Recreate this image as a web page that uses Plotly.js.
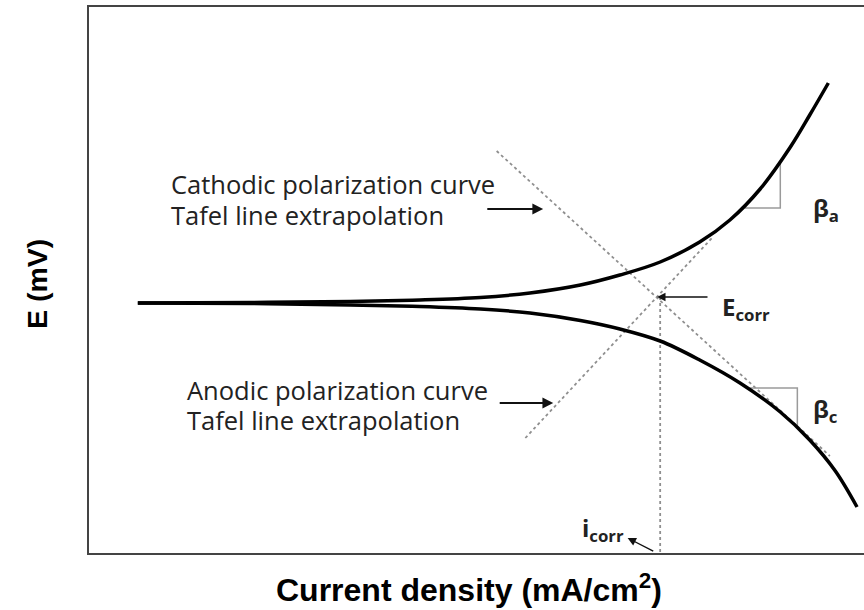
<!DOCTYPE html>
<html>
<head>
<meta charset="utf-8">
<script src="https://cdn.plot.ly/plotly-3.0.1.min.js"></script>
<style>html,body{margin:0;padding:0;background:#fff;}#chart{width:864px;height:610px;}</style>
</head>
<body>
<div id="chart"></div>
<script>
// Polarization curves (arbitrary units: current density on x, potential on y)
const upperX = [0.63, 2.08, 3.37, 4.27, 5.05, 5.69, 6.34, 6.85, 7.37, 7.88, 8.27, 8.66, 9.05, 9.30, 9.54];
const upperY = [0.00, 0.01, 0.03, 0.06, 0.11, 0.20, 0.36, 0.56, 0.82, 1.22, 1.66, 2.28, 3.12, 3.76, 4.40];
const lowerX = [0.63, 2.08, 3.37, 4.27, 5.05, 5.69, 6.34, 6.85, 7.37, 7.88, 8.40, 8.92, 9.30, 9.63, 9.91];
const lowerY = [0.00, -0.01, -0.04, -0.07, -0.12, -0.20, -0.35, -0.52, -0.76, -1.14, -1.60, -2.18, -2.74, -3.36, -4.08];
// Tafel extrapolation lines
const tafelCathX = [5.26, 9.56];
const tafelCathY = [3.04, -3.06];
const tafelAnodX = [5.63, 8.05];
const tafelAnodY = [-2.70, 1.32];
// Corrosion point
const iCorrX = [7.37, 7.37];
const iCorrY = [0.12, -5.0];
// Slope triangles
const betaAX = [8.46, 8.92, 8.92];
const betaAY = [1.90, 1.90, 2.82];
const betaCX = [8.53, 9.14, 9.14];
const betaCY = [-1.70, -1.70, -2.50];

const dotStyle = {color: '#8f8f8f', width: 1.8, dash: 'dot'};
const triStyle = {color: '#9a9a9a', width: 1.5};

const traces = [
  {x: tafelCathX, y: tafelCathY, mode: 'lines', line: dotStyle},
  {x: tafelAnodX, y: tafelAnodY, mode: 'lines', line: dotStyle},
  {x: iCorrX, y: iCorrY, mode: 'lines', line: dotStyle},
  {x: betaAX, y: betaAY, mode: 'lines', line: triStyle},
  {x: betaCX, y: betaCY, mode: 'lines', line: triStyle},
  {x: upperX, y: upperY, mode: 'lines', line: {color: '#000', width: 3.5, shape: 'spline', smoothing: 1}},
  {x: lowerX, y: lowerY, mode: 'lines', line: {color: '#000', width: 3.5, shape: 'spline', smoothing: 1}}
];

const txtFont = {family: 'Open Sans', size: 25.5, color: '#222'};
const lblFont = {family: 'Open Sans', size: 24, color: '#222', weight: 'bold'};
function arrow(x, y, ax, ay, w) {
  return {x: x, y: y, ax: ax, ay: ay, xref: 'x', yref: 'y', axref: 'x', ayref: 'y',
    text: '', showarrow: true, arrowhead: 2, arrowsize: 1.2, arrowwidth: w || 1.8, arrowcolor: '#111'};
}
function label(x, y, text, font, xanchor) {
  return {x: x, y: y, xref: 'x', yref: 'y', text: text, showarrow: false,
    xanchor: xanchor || 'left', yanchor: 'middle', font: font};
}

const layout = {
  width: 864, height: 610,
  margin: {l: 89, r: 0, t: 7, b: 57},
  paper_bgcolor: '#fff', plot_bgcolor: '#fff',
  showlegend: false,
  xaxis: {range: [0, 10], showgrid: false, zeroline: false, showticklabels: false, ticks: '',
    showline: true, mirror: true, linecolor: '#444', linewidth: 2, fixedrange: true},
  yaxis: {range: [-5, 5.92], showgrid: false, zeroline: false, showticklabels: false, ticks: '',
    showline: true, linecolor: '#444', linewidth: 2, fixedrange: true},
  annotations: [
    label(1.03, 2.38, 'Cathodic polarization curve', txtFont),
    label(1.03, 1.76, 'Tafel line extrapolation', txtFont),
    label(1.24, -1.74, 'Anodic polarization curve', txtFont),
    label(1.24, -2.34, 'Tafel line extrapolation', txtFont),
    arrow(5.86, 1.88, 5.12, 1.88),
    arrow(5.99, -2.0, 5.28, -2.0),
    arrow(7.33, 0.12, 8.0, 0.12, 1.4),
    arrow(6.95, -4.70, 7.30, -4.98, 1.4),
    label(8.14, -0.10, 'E<sub>corr</sub>', lblFont),
    label(6.33, -4.52, 'i<sub>corr</sub>', lblFont),
    label(9.31, 1.88, 'β<sub>a</sub>', lblFont),
    label(9.31, -2.14, 'β<sub>c</sub>', lblFont),
    {x: -0.067, y: 0.493, xref: 'paper', yref: 'paper', text: 'E (mV)', showarrow: false,
      textangle: -90, xanchor: 'center', yanchor: 'middle',
      font: {family: 'Liberation Sans', size: 28.5, color: '#000', weight: 'bold'}},
    {x: 0.49, y: -0.064, xref: 'paper', yref: 'paper', text: 'Current density (mA/cm<sup>2</sup>)', showarrow: false,
      xanchor: 'center', yanchor: 'middle',
      font: {family: 'Liberation Sans', size: 32, color: '#000', weight: 'bold'}}
  ]
};
Plotly.newPlot('chart', traces, layout, {staticPlot: true, displayModeBar: false});
</script>
</body>
</html>
